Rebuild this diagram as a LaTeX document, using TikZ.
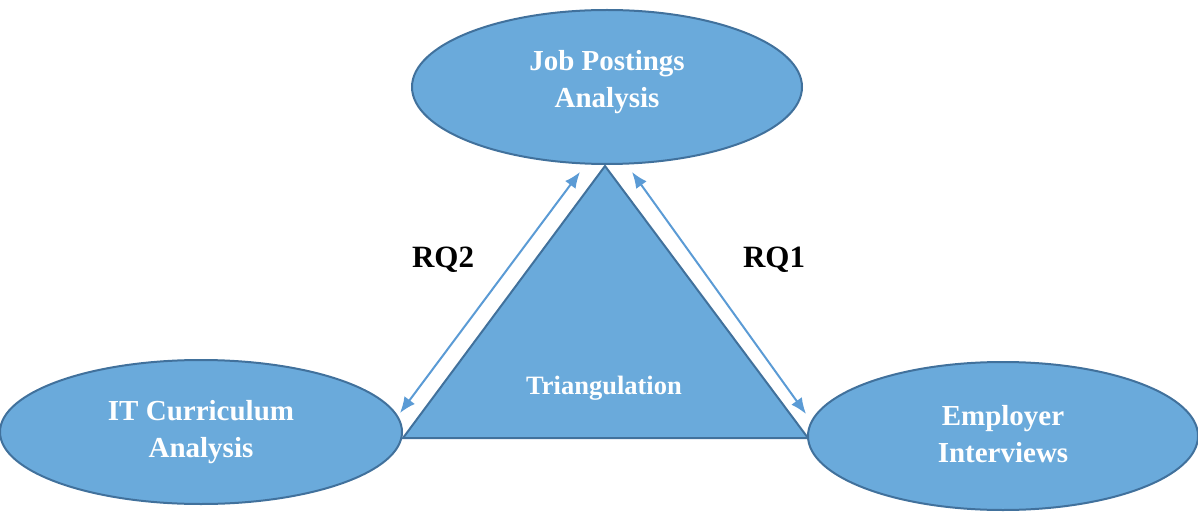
\documentclass[tikz,border=0pt]{standalone}
\usepackage{fontspec}
\setmainfont{Liberation Serif}
\usetikzlibrary{shapes.geometric,arrows.meta}
\definecolor{boxfill}{RGB}{106,170,219}
\definecolor{boxline}{RGB}{65,113,156}
\definecolor{arrowblue}{RGB}{91,155,213}
\tikzset{
  stage/.style={ellipse,draw=boxline,fill=boxfill,line width=2pt,inner sep=0pt,
    text=white,font=\bfseries\fontsize{29}{37}\selectfont,align=center},
  rq/.style={font=\bfseries\fontsize{31}{36}\selectfont},
  link/.style={arrowblue,line width=2pt,{Latex[length=16pt,width=13pt]}-{Latex[length=16pt,width=13pt]}}
}
\begin{document}
\begin{tikzpicture}[x=1pt,y=-1pt]
        \useasboundingbox (0,0) rectangle (1198,513);
        % triangle in the middle
        \coordinate (apex) at (605,166);
        \coordinate (bl) at (403,438);
        \coordinate (br) at (808,438);
        \draw[boxline,fill=boxfill,line width=2pt,line join=miter] (apex)--(br)--(bl)--cycle;
        \node[text=white,font=\bfseries\fontsize{26.5}{30}\selectfont] (tri) at (604,388) {Triangulation};
        % the three analyses
        \node[stage,minimum width=390pt,minimum height=154pt] (jobs) at (607,87) {};
        \node[text=white,font=\bfseries\fontsize{29}{37}\selectfont,align=center] (jobstext) at (607,82) {Job Postings\\Analysis};
        \node[stage,minimum width=402pt,minimum height=144pt] (curr) at (201,432) {IT Curriculum\\Analysis};
        \node[stage,minimum width=390pt,minimum height=148pt] (empl) at (1003,436) {};
        \node[text=white,font=\bfseries\fontsize{29}{37}\selectfont,align=center] (empltext) at (1003,434) {Employer\\Interviews};
        % arrows
        \coordinate (a1) at (400,413);
        \coordinate (a2) at (580,172);
        \coordinate (b1) at (632,172);
        \coordinate (b2) at (806,414);
        \draw[link] (a1)--(a2);
        \draw[link] (b1)--(b2);
        \node[rq] (rq2) at (443,260) {RQ2};
        \node[rq] (rq1) at (774,260) {RQ1};
\end{tikzpicture}
\end{document}
